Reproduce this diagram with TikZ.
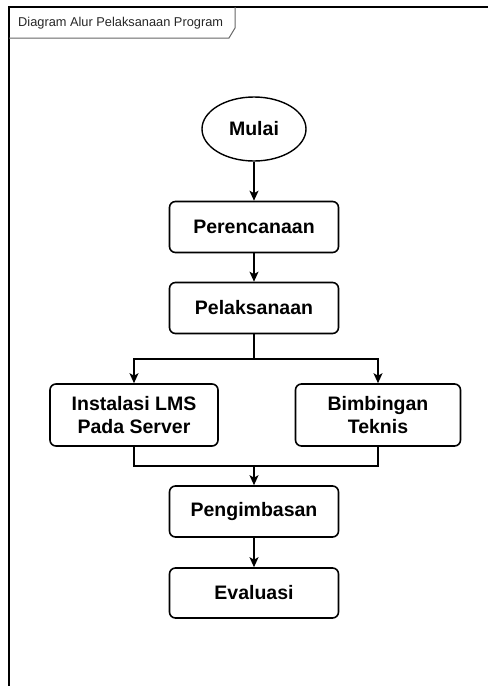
\documentclass[tikz,border=0pt]{standalone}
\usepackage{fontspec}
\setmainfont{Liberation Sans}
\usetikzlibrary{arrows.meta,shapes.geometric}
\begin{document}
\begin{tikzpicture}[x=1pt,y=-1pt,
  box/.style={draw,line width=1.6pt,rounded corners=6pt,minimum width=169pt,minimum height=51pt,font=\bfseries\fontsize{19.5}{22.5}\selectfont,align=center,inner sep=0pt},
  term/.style={draw,ellipse,line width=1.4pt,minimum width=104pt,minimum height=64pt,font=\bfseries\fontsize{19.5}{22.5}\selectfont,inner sep=0pt},
  conn/.style={line width=1.6pt},
  arr/.style={conn,-{Stealth[length=10pt,width=9pt,inset=2.5pt]}}]
\useasboundingbox (0,0) rectangle (488,686);
% frame
\draw[line width=1.4pt] (9,686) -- (9,7) -- (488,7);
\draw[line width=1pt,draw=black!60] (235,7) -- (235,28) -- (229,38) -- (9,38);
\node[anchor=west,font=\fontsize{12.8}{15}\selectfont,text=black!85,inner sep=0pt] (title) at (18,23) {Diagram Alur Pelaksanaan Program};
% nodes
\node[term] (mulai) at (254,129) {Mulai};
\node[box] (pere) at (254,227) {Perencanaan};
\node[box] (pela) at (254,308) {Pelaksanaan};
\node[box,minimum width=168pt,minimum height=62pt] (inst) at (134,415) {Instalasi LMS\\Pada Server};
\node[box,minimum width=165pt,minimum height=62pt] (bimb) at (378,415) {Bimbingan\\Teknis};
\node[box] (peng) at (254,511.5) {Pengimbasan};
\node[box,minimum height=50pt] (eval) at (254,593) {Evaluasi};
\coordinate (split) at (254,359);
\coordinate (merge) at (254,466);
% connectors
\draw[arr] (mulai.south) -- (pere.north);
\draw[arr] (pere.south) -- (pela.north);
\draw[arr] (pela.south) -- (split) -| (inst.north);
\draw[arr] (split) -| (bimb.north);
\draw[conn] (inst.south) |- (merge);
\draw[conn] (bimb.south) |- (merge);
\draw[arr] (merge) -- (peng.north);
\draw[arr] (peng.south) -- (eval.north);
\end{tikzpicture}
\end{document}
